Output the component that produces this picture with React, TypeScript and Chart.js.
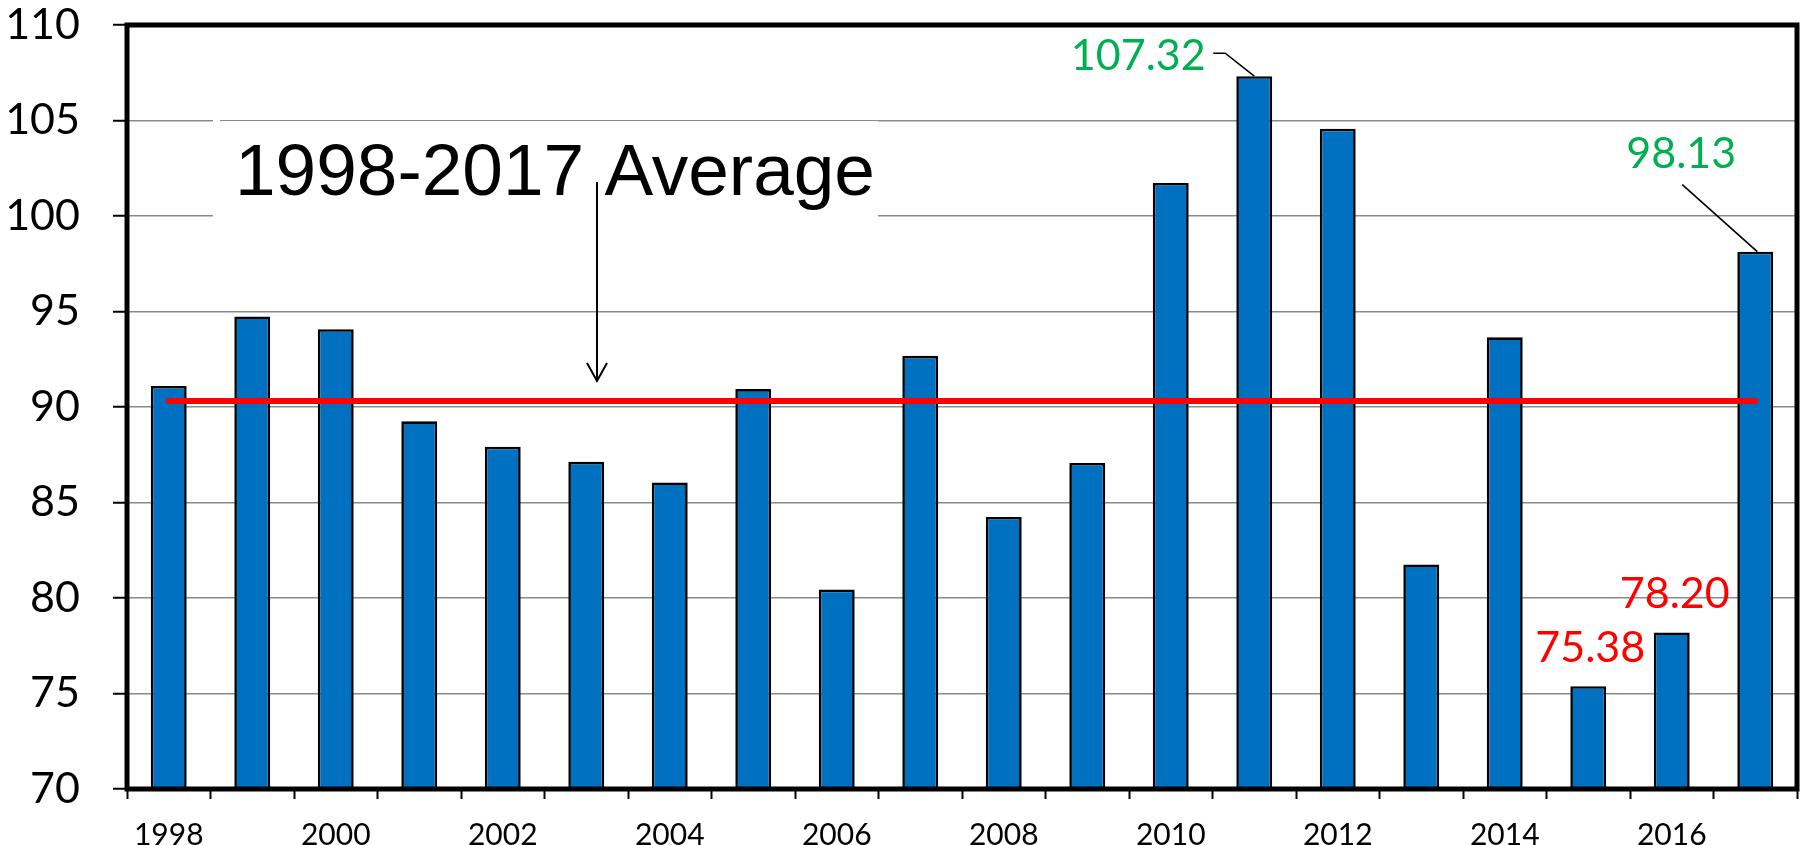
import React, { useEffect, useRef } from 'react';
import { Chart, registerables } from 'chart.js';

Chart.register(...registerables);

// ---- data ----
const years: string[] = [
  '1998', '1999', '2000', '2001', '2002', '2003', '2004', '2005', '2006', '2007',
  '2008', '2009', '2010', '2011', '2012', '2013', '2014', '2015', '2016', '2017',
];
const values: number[] = [
  91.1, 94.74, 94.07, 89.25, 87.92, 87.13, 86.05, 90.94, 80.44, 92.68,
  84.24, 87.07, 101.73, 107.32, 104.57, 81.76, 93.65, 75.38, 78.2, 98.13,
];
const yMin = 70;
const yMax = 110;
const yStep = 5;
const averageTitle = '1998-2017 Average';
const highIdx: number[] = [13, 19];
const lowIdx: number[] = [17, 18];

const average = values.reduce((s, v) => s + v, 0) / values.length;
const averageSeries: number[] = values.map(() => average);

// ---- styles ----
const GREEN = '#00B050';
const RED = '#FF0000';
const BAR = '#0070C0';
const TICK_FONT = 'Lato';

type Ann = { index: number; color: string; dx: number; dy: number; leader?: number[][] };
const annotations: Ann[] = [
  { index: highIdx[0], color: GREEN, dx: -116, dy: -6, leader: [[-41, -23], [-29, -23], [0, 0]] },
  { index: highIdx[1], color: GREEN, dx: -74, dy: -84, leader: [[-73, -67], [2, 0]] },
  { index: lowIdx[0], color: RED, dx: 2, dy: -24 },
  { index: lowIdx[1], color: RED, dx: 3, dy: -24 },
];

const overlayPlugin = {
  id: 'overlay',
  beforeDatasetsDraw(chart: any) {
    const { ctx, chartArea: a } = chart;
    ctx.save();
    ctx.fillStyle = '#ffffff';
    ctx.fillRect(a.left + 86, a.top + 96, 665, 115);
    ctx.fillRect(a.left + 86, a.top + 93, 7, 4);
    ctx.restore();
  },
  afterDatasetsDraw(chart: any) {
    const { ctx, chartArea: a } = chart;
    ctx.save();
    ctx.strokeStyle = '#000';
    ctx.lineWidth = 5;
    ctx.strokeRect(a.left, a.top, a.right - a.left, a.bottom - a.top);
    ctx.restore();
  },
  afterDraw(chart: any) {
    const { ctx, chartArea: a, scales } = chart;
    const xs = scales.x;
    const ys = scales.y;
    ctx.save();
    // title text
    ctx.fillStyle = '#000';
    ctx.font = '73px "Liberation Sans", Arial, sans-serif';
    ctx.textAlign = 'left';
    ctx.textBaseline = 'alphabetic';
    ctx.fillText(averageTitle, a.left + 108, a.top + 170);
    // arrow
    const ax = a.left + 470;
    const tipY = ys.getPixelForValue(average) - 20;
    ctx.strokeStyle = '#000';
    ctx.lineWidth = 2;
    ctx.beginPath();
    ctx.moveTo(ax, a.top + 157);
    ctx.lineTo(ax, tipY);
    ctx.stroke();
    ctx.beginPath();
    ctx.moveTo(ax - 10, tipY - 18);
    ctx.lineTo(ax, tipY);
    ctx.lineTo(ax + 10, tipY - 18);
    ctx.stroke();
    // value labels
    ctx.font = `43px ${TICK_FONT}`;
    ctx.textAlign = 'center';
    for (const an of annotations) {
      const px = xs.getPixelForValue(an.index);
      const py = ys.getPixelForValue(values[an.index]);
      if (an.leader) {
        ctx.strokeStyle = '#000';
        ctx.lineWidth = 1.6;
        ctx.beginPath();
        an.leader.forEach((p, i) => {
          if (i === 0) ctx.moveTo(px + p[0], py + p[1]);
          else ctx.lineTo(px + p[0], py + p[1]);
        });
        ctx.stroke();
      }
      ctx.fillStyle = an.color;
      ctx.fillText(values[an.index].toFixed(2), px + an.dx, py + an.dy);
    }
    ctx.restore();
  },
};

export default function App() {
  const ref = useRef<HTMLCanvasElement | null>(null);
  useEffect(() => {
    if (!ref.current) return;
    const chart = new Chart(ref.current, {
      type: 'bar',
      data: {
        labels: years,
        datasets: [
          {
            type: 'line',
            data: averageSeries,
            borderColor: RED,
            borderWidth: 6,
            borderCapStyle: 'round',
            pointRadius: 0,
            fill: false,
            order: 0,
          } as any,
          {
            type: 'bar',
            data: values,
            backgroundColor: BAR,
            borderColor: '#000',
            borderWidth: 2.6,
            barPercentage: 0.43,
            categoryPercentage: 1,
            order: 1,
          },
        ],
      },
      options: {
        responsive: false,
        animation: false,
        devicePixelRatio: 1,
        layout: { padding: { top: 25, right: 12, left: 0, bottom: 0 } },
        plugins: { legend: { display: false }, tooltip: { enabled: false }, title: { display: false } },
        scales: {
          x: {
            offset: true,
            grid: {
              offset: true,
              drawOnChartArea: false,
              drawTicks: true,
              tickLength: 10,
              tickColor: '#000',
              tickWidth: 2,
            },
            border: { display: false },
            ticks: {
              autoSkip: false,
              maxRotation: 0,
              minRotation: 0,
              padding: 18,
              color: '#000',
              font: { family: TICK_FONT, size: 30 },
              callback: (_v: any, i: number) => (i % 2 === 0 ? years[i] : ''),
            },
            afterFit: (s: any) => {
              s.height = 56;
              s.paddingLeft = 0;
              s.paddingRight = 0;
            },
          },
          y: {
            min: yMin,
            max: yMax,
            grid: {
              color: '#8a8a8a',
              lineWidth: 1.5,
              drawTicks: true,
              tickLength: 14,
              tickColor: '#000',
              tickWidth: 2,
            },
            border: { display: false },
            ticks: {
              stepSize: yStep,
              padding: 33,
              color: '#000',
              font: { family: TICK_FONT, size: 43 },
            },
            afterFit: (s: any) => {
              s.width = 127;
              s.paddingTop = 0;
              s.paddingBottom = 0;
            },
          },
        },
      },
      plugins: [overlayPlugin],
    });
    return () => chart.destroy();
  }, []);
  return (
    <div style={{ position: 'absolute', left: 0, top: 0, width: 1809, height: 845, background: '#fff' }}>
      <canvas ref={ref} width={1809} height={845} style={{ display: 'block' }} />
    </div>
  );
}
